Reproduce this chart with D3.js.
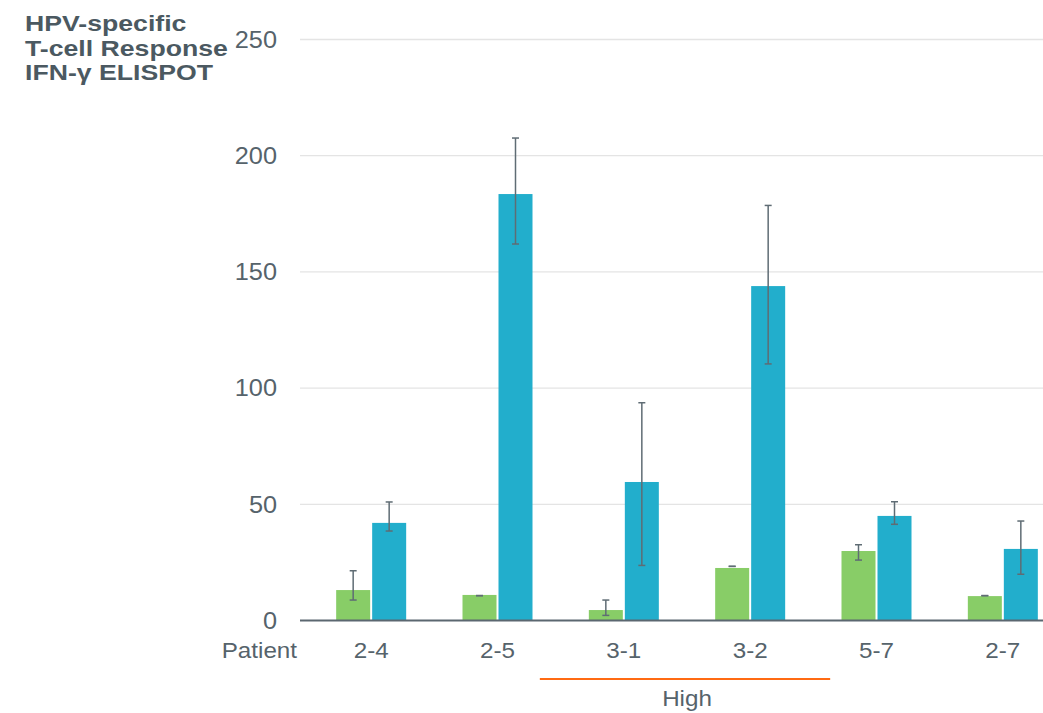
<!DOCTYPE html>
<meta charset="utf-8">
<script src="https://d3js.org/d3.v7.min.js"></script>
<style>
    body { margin: 0; background: #fff; }
    text { font-family: "Liberation Sans", Arial, sans-serif; }
</style>
<body>
<div id="chart"></div>
</body>
<script>
    // data
    const patients = ["2-4", "2-5", "3-1", "3-2", "5-7", "2-7"];
    const series = ["pre", "post"];
    const preValues = [13.1, 11.0, 4.5, 22.6, 29.9, 10.5];
    const preErrLow = [8.8, 10.7, 2.2, 23.3, 26.0, 10.7];
    const preErrHigh = [21.4, 10.7, 8.8, 23.3, 32.6, 10.7];
    const postValues = [42.0, 183.5, 59.6, 143.9, 45.0, 30.8];
    const postErrLow = [38.5, 162.0, 23.7, 110.4, 41.4, 19.9];
    const postErrHigh = [51.0, 207.6, 93.7, 178.6, 51.1, 42.8];
    const yTicks = [0, 50, 100, 150, 200, 250];
    const titleLines = ["HPV-specific", "T-cell Response", "IFN-γ ELISPOT"];
    const highGroup = ["3-1", "3-2"];

    const W = 1043, H = 713;
    const colors = {pre: "#88cd67", post: "#22aecc"};
    const textColor = "#56636b";
    const stretch = 1.1;

    const svg = d3.select("#chart").append("svg")
        .attr("width", W)
        .attr("height", H);

    const y = d3.scaleLinear().domain([0, 250]).range([620.5, 39.5]);
    const x = d3.scaleBand().domain(patients).range([308, 1066]);
    const inner = d3.scaleBand().domain(series).range([0, 70]).paddingInner(2 / 36);

    // gridlines
    svg.append("g")
        .selectAll("line")
        .data(yTicks.filter(d => d > 0))
        .join("line")
        .attr("x1", 300).attr("x2", W)
        .attr("y1", d => y(d)).attr("y2", d => y(d))
        .attr("stroke", "#e4e4e4")
        .attr("stroke-width", 1.3);

    // y tick labels
    svg.append("g")
        .selectAll("text")
        .data(yTicks)
        .join("text")
        .attr("transform", d => "translate(277," + y(d) + ") scale(" + stretch + ",1)")
        .attr("text-anchor", "end")
        .attr("dy", "0.36em")
        .style("font-size", "23px")
        .attr("fill", textColor)
        .text(d => d);

    const rows = patients.map((p, i) => ({
        patient: p,
        bars: [
            {key: "pre", value: preValues[i], lo: preErrLow[i], hi: preErrHigh[i]},
            {key: "post", value: postValues[i], lo: postErrLow[i], hi: postErrHigh[i]}
        ]
    }));

    const groups = svg.append("g")
        .selectAll("g")
        .data(rows)
        .join("g")
        .attr("transform", d => "translate(" + (x(d.patient) + x.bandwidth() / 2 - 35) + ",0)");

    groups.selectAll("rect")
        .data(d => d.bars)
        .join("rect")
        .attr("x", d => inner(d.key))
        .attr("width", inner.bandwidth())
        .attr("y", d => y(d.value))
        .attr("height", d => y(0) - y(d.value))
        .attr("fill", d => colors[d.key]);

    // error bars
    const err = groups.selectAll("g.err")
        .data(d => d.bars)
        .join("g")
        .attr("class", "err")
        .attr("transform", d => "translate(" + (inner(d.key) + inner.bandwidth() / 2) + ",0)")
        .attr("stroke", "#5f6c74")
        .attr("stroke-width", 1.5);
    err.append("line")
        .attr("y1", d => y(d.lo)).attr("y2", d => y(d.hi));
    err.append("line")
        .attr("x1", -3.5).attr("x2", 3.5)
        .attr("y1", d => y(d.hi)).attr("y2", d => y(d.hi));
    err.append("line")
        .attr("x1", -3.5).attr("x2", 3.5)
        .attr("y1", d => y(d.lo)).attr("y2", d => y(d.lo));

    // baseline axis
    svg.append("line")
        .attr("x1", 300).attr("x2", W)
        .attr("y1", y(0)).attr("y2", y(0))
        .attr("stroke", "#5b6770")
        .attr("stroke-width", 2.2);

    // x labels
    svg.append("g")
        .selectAll("text")
        .data(patients)
        .join("text")
        .attr("transform", d => "translate(" + (x(d) + x.bandwidth() / 2) + ",658) scale(" + stretch + ",1)")
        .attr("text-anchor", "middle")
        .style("font-size", "22px")
        .attr("fill", textColor)
        .text(d => d);

    svg.append("text")
        .attr("transform", "translate(297,658) scale(" + stretch + ",1)")
        .attr("text-anchor", "end")
        .style("font-size", "22px")
        .attr("fill", textColor)
        .text("Patient");

    // "High" bracket
    const hx1 = x(highGroup[0]) + x.bandwidth() / 2 - 84;
    const hx2 = x(highGroup[1]) + x.bandwidth() / 2 + 80;
    svg.append("line")
        .attr("x1", hx1).attr("x2", hx2)
        .attr("y1", 679).attr("y2", 679)
        .attr("stroke", "#ff6a13")
        .attr("stroke-width", 2);
    svg.append("text")
        .attr("transform", "translate(" + ((hx1 + hx2) / 2 + 2) + ",706) scale(" + stretch + ",1)")
        .attr("text-anchor", "middle")
        .style("font-size", "22px")
        .attr("fill", textColor)
        .text("High");

    // title
    svg.append("g")
        .selectAll("text")
        .data(titleLines)
        .join("text")
        .attr("transform", (d, i) => "translate(25," + (31 + i * 24.5) + ") scale(1.24,1)")
        .style("font-size", "21.5px")
        .style("font-weight", "bold")
        .attr("fill", "#4b5961")
        .text(d => d);
</script>
